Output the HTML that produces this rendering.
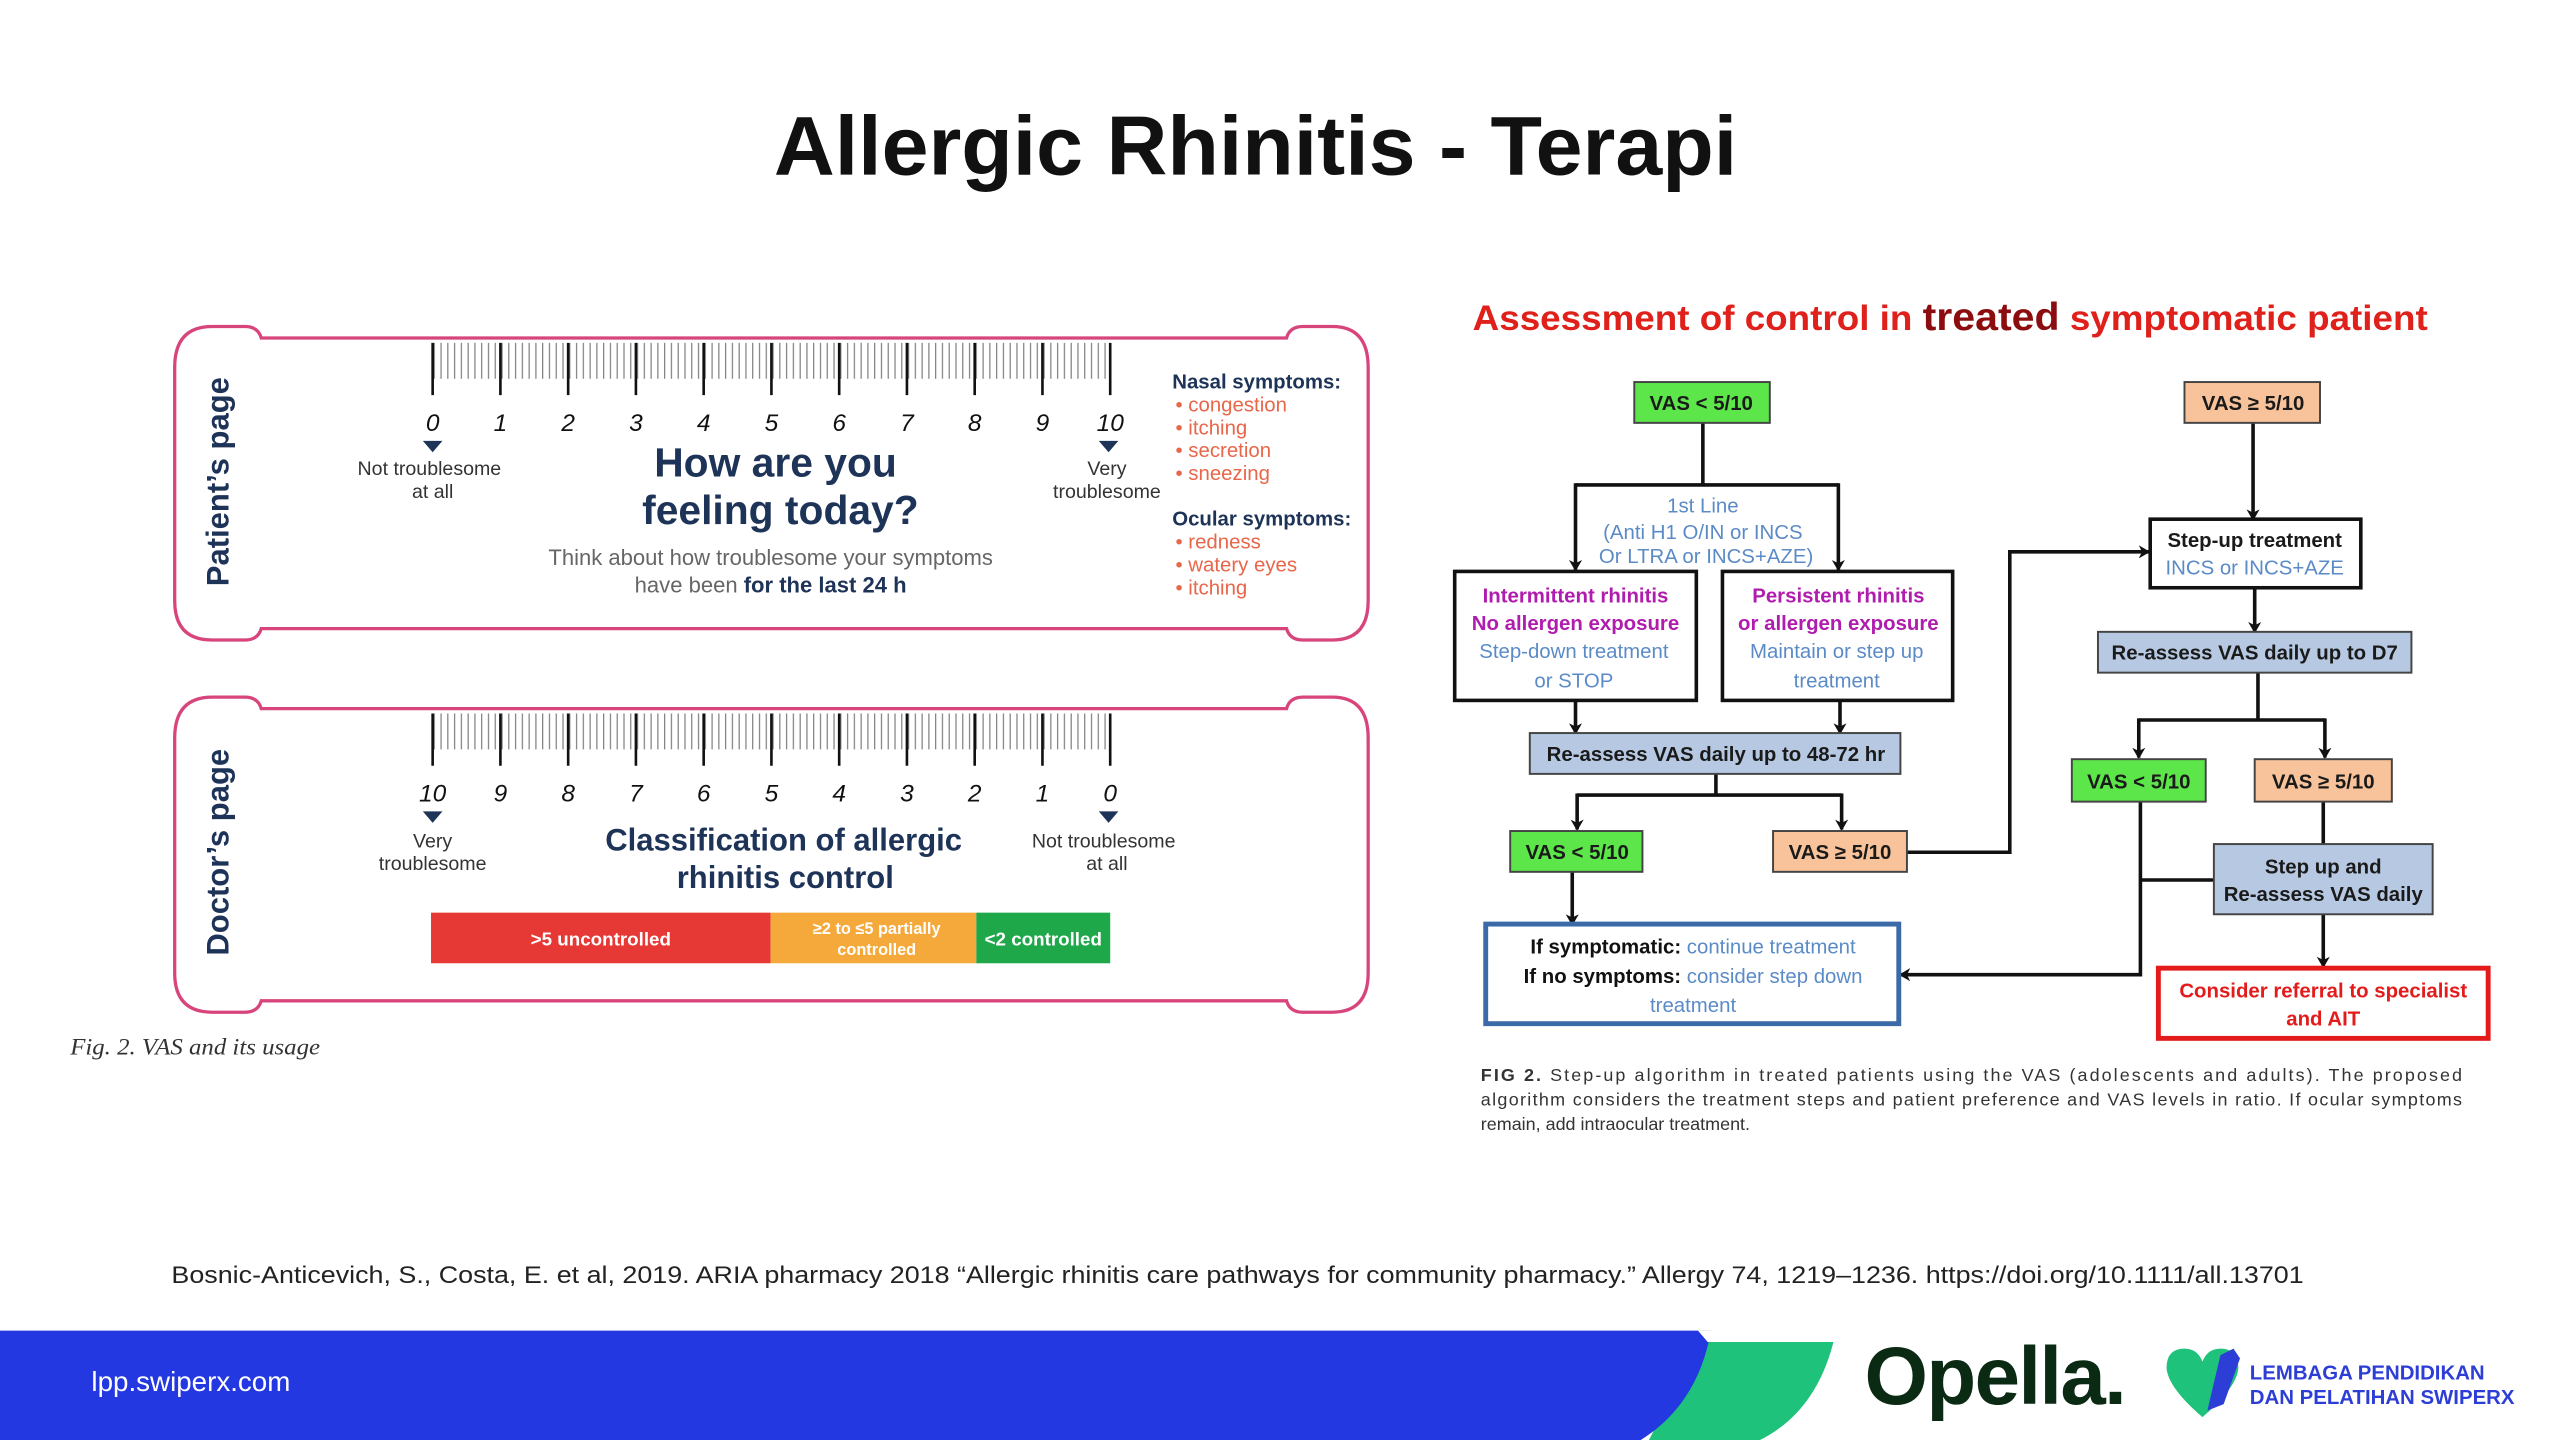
<!DOCTYPE html>
<html><head><meta charset="utf-8"><style>
html,body{margin:0;padding:0;background:#fff;}
svg{display:block;}
text{font-family:"Liberation Sans",Arial,sans-serif;}
</style></head><body>
<svg width="2560" height="1440" viewBox="0 0 1568 882" xmlns="http://www.w3.org/2000/svg">
<defs>
<pattern id="tk" x="265" y="0" width="4.15" height="900" patternUnits="userSpaceOnUse">
<line x1="1" y1="0" x2="1" y2="900" stroke="#777" stroke-width="0.7"/>
</pattern>
<marker id="ar" markerWidth="8" markerHeight="8" refX="6" refY="4" orient="auto" markerUnits="userSpaceOnUse">
<path d="M0,0 L7,4 L0,8 L2,4 z" fill="#111"/>
</marker>
</defs>
<rect width="1568" height="882" fill="#fff"/>
<text x="474" y="107" textLength="590" lengthAdjust="spacingAndGlyphs" font-size="51" font-weight="bold" fill="#111">Allergic Rhinitis - Terapi</text>

<g fill="none" stroke="#d8457c" stroke-width="2">
<path d="M107,225 Q107,200 130,200 L150,200 Q158,200 160,207 L788,207 Q790,200 798,200 L816,200 Q838,200 838,225 L838,368 Q838,392 816,392 L798,392 Q790,392 788,385 L160,385 Q158,392 150,392 L130,392 Q107,392 107,368 Z"/>
<path d="M107,452 Q107,427 130,427 L150,427 Q158,427 160,434 L788,434 Q790,427 798,427 L816,427 Q838,427 838,452 L838,596 Q838,620 816,620 L798,620 Q790,620 788,613 L160,613 Q158,620 150,620 L130,620 Q107,620 107,596 Z"/>
</g>
<rect x="265" y="210" width="415" height="22" fill="url(#tk)"/>
<rect x="265" y="437" width="415" height="22" fill="url(#tk)"/>
<g stroke="#111" stroke-width="1.6">
<path d="M265,210V242M306.5,210V242M348,210V242M389.5,210V242M431,210V242M472.5,210V242M514,210V242M555.5,210V242M597,210V242M638.5,210V242M680,210V242"/>
<path d="M265,437V469M306.5,437V469M348,437V469M389.5,437V469M431,437V469M472.5,437V469M514,437V469M555.5,437V469M597,437V469M638.5,437V469M680,437V469"/>
</g>
<g font-size="15" font-style="italic" fill="#111" text-anchor="middle">
<text x="265" y="264">0</text><text x="306.5" y="264">1</text><text x="348" y="264">2</text><text x="389.5" y="264">3</text><text x="431" y="264">4</text><text x="472.5" y="264">5</text><text x="514" y="264">6</text><text x="555.5" y="264">7</text><text x="597" y="264">8</text><text x="638.5" y="264">9</text><text x="680" y="264">10</text>
<text x="265" y="491">10</text><text x="306.5" y="491">9</text><text x="348" y="491">8</text><text x="389.5" y="491">7</text><text x="431" y="491">6</text><text x="472.5" y="491">5</text><text x="514" y="491">4</text><text x="555.5" y="491">3</text><text x="597" y="491">2</text><text x="638.5" y="491">1</text><text x="680" y="491">0</text>
</g>
<g fill="#1e3358">
<path d="M259,270h12l-6,7z"/><path d="M673,270h12l-6,7z"/>
<path d="M259,497h12l-6,7z"/><path d="M673,497h12l-6,7z"/>
</g>
<g font-size="12" fill="#333" text-anchor="middle">
<text x="263" y="291">Not troublesome</text><text x="265" y="305">at all</text>
<text x="678" y="291">Very</text><text x="678" y="305">troublesome</text>
<text x="265" y="519">Very</text><text x="265" y="533">troublesome</text>
<text x="676" y="519">Not troublesome</text><text x="678" y="533">at all</text>
</g>
<g font-weight="bold" fill="#1e3358" text-anchor="middle">
<text x="475" y="292" font-size="25">How are you</text>
<text x="478" y="321" font-size="25">feeling today?</text>
<text x="480" y="521" font-size="19">Classification of allergic</text>
<text x="481" y="544" font-size="19">rhinitis control</text>
</g>
<text x="472" y="346" font-size="13.5" fill="#666" text-anchor="middle">Think about how troublesome your symptoms</text>
<text x="472" y="363" font-size="13.5" fill="#666" text-anchor="middle">have been <tspan fill="#1e3358" font-weight="bold">for the last 24 h</tspan></text>
<g transform="translate(140,295) rotate(-90)"><text x="0" y="0" font-size="19" font-weight="bold" fill="#1e3358" text-anchor="middle">Patient’s page</text></g>
<g transform="translate(140,522) rotate(-90)"><text x="0" y="0" font-size="19" font-weight="bold" fill="#1e3358" text-anchor="middle">Doctor’s page</text></g>
<g font-size="12.5">
<text x="718" y="238" font-weight="bold" fill="#1e3358">Nasal symptoms:</text>
<text x="720" y="252" fill="#e8664a">• congestion</text>
<text x="720" y="266" fill="#e8664a">• itching</text>
<text x="720" y="280" fill="#e8664a">• secretion</text>
<text x="720" y="294" fill="#e8664a">• sneezing</text>
<text x="718" y="322" font-weight="bold" fill="#1e3358">Ocular symptoms:</text>
<text x="720" y="336" fill="#e8664a">• redness</text>
<text x="720" y="350" fill="#e8664a">• watery eyes</text>
<text x="720" y="364" fill="#e8664a">• itching</text>
</g>
<rect x="264" y="559" width="208" height="31" fill="#e63935"/>
<rect x="472" y="559" width="126" height="31" fill="#f4a93a"/>
<rect x="598" y="559" width="82" height="31" fill="#1fa84a"/>
<g fill="#fff" font-size="11.5" text-anchor="middle" font-weight="bold">
<text x="368" y="579">&gt;5 uncontrolled</text>
<text x="537" y="572" font-size="10">≥2 to ≤5 partially</text>
<text x="537" y="585" font-size="10">controlled</text>
<text x="639" y="579">&lt;2 controlled</text>
</g>
<text x="43" y="646" font-style="italic" font-size="14" fill="#333" style="font-family:'Liberation Serif',serif" textLength="153" lengthAdjust="spacingAndGlyphs">Fig. 2. VAS and its usage</text>

<text x="902" y="202" font-size="21.5" fill="#e0201b" font-weight="bold" textLength="585" lengthAdjust="spacingAndGlyphs">Assessment of control in <tspan fill="#8b0d10" font-size="24">treated</tspan> symptomatic patient</text>
<g stroke="#111" stroke-width="2.2" fill="none">
<path d="M1043,259V297M965,297H1126"/>
<path d="M965,296V349" marker-end="url(#ar)"/><path d="M1126,296V349" marker-end="url(#ar)"/>
<path d="M965,429V449" marker-end="url(#ar)"/><path d="M1127,429V449" marker-end="url(#ar)"/>
<path d="M1051,474V487M966,487H1128"/>
<path d="M966,486V508" marker-end="url(#ar)"/><path d="M1128,486V508" marker-end="url(#ar)"/>
<path d="M1168,522H1231V338H1316" marker-end="url(#ar)"/>
<path d="M963,534V566" marker-end="url(#ar)"/>
<path d="M1380,259V318" marker-end="url(#ar)"/>
<path d="M1381,360V387" marker-end="url(#ar)"/>
<path d="M1383,412V441M1310,441H1424"/>
<path d="M1310,440V464" marker-end="url(#ar)"/><path d="M1424,440V464" marker-end="url(#ar)"/>
<path d="M1423,491V517"/>
<path d="M1311,491V597H1164" marker-end="url(#ar)"/>
<path d="M1311,539H1356"/>
<path d="M1423,560V592" marker-end="url(#ar)"/>
</g>
<g stroke="#444" stroke-width="1.2">
<rect x="1001" y="234" width="83" height="25" fill="#5de64a"/>
<rect x="1338" y="234" width="83" height="25" fill="#f8c39b"/>
<rect x="925" y="509" width="81" height="25" fill="#5de64a"/>
<rect x="1086" y="509" width="82" height="25" fill="#f8c39b"/>
<rect x="1269" y="465" width="82" height="26" fill="#5de64a"/>
<rect x="1381" y="465" width="84" height="26" fill="#f8c39b"/>
<rect x="937" y="449" width="227" height="25" fill="#b7c9e2"/>
<rect x="1285" y="387" width="192" height="25" fill="#b7c9e2"/>
<rect x="1356" y="517" width="134" height="43" fill="#b7c9e2"/>
</g>
<g stroke="#111" stroke-width="2.2" fill="#fff">
<rect x="891" y="350" width="148" height="79"/>
<rect x="1055" y="350" width="141" height="79"/>
<rect x="1317" y="318" width="129" height="42"/>
</g>
<rect x="910" y="566" width="253" height="61" fill="#fff" stroke="#3a6aa8" stroke-width="3"/>
<rect x="1322" y="593" width="202" height="43" fill="#fff" stroke="#e31b1b" stroke-width="3"/>
<g font-size="12.5" text-anchor="middle" font-weight="bold" fill="#1a1a1a">
<text x="1042" y="251">VAS &lt; 5/10</text>
<text x="1380" y="251">VAS ≥ 5/10</text>
<text x="966" y="526">VAS &lt; 5/10</text>
<text x="1127" y="526">VAS ≥ 5/10</text>
<text x="1310" y="483">VAS &lt; 5/10</text>
<text x="1423" y="483">VAS ≥ 5/10</text>
<text x="1051" y="466">Re-assess VAS daily  up to 48-72 hr</text>
<text x="1381" y="404">Re-assess VAS daily up to D7</text>
<text x="1423" y="535">Step up and</text>
<text x="1423" y="552">Re-assess VAS daily</text>
<text x="1381" y="335">Step-up treatment</text>
</g>
<g font-size="12.5" text-anchor="middle" fill="#5b8bc7">
<text x="1043" y="314">1st Line</text>
<text x="1043" y="330">(Anti H1 O/IN or INCS</text>
<text x="1045" y="345">Or LTRA or  INCS+AZE)</text>
<text x="1381" y="352">INCS or INCS+AZE</text>
<text x="964" y="403">Step-down treatment</text>
<text x="964" y="421">or STOP</text>
<text x="1125" y="403">Maintain or step up</text>
<text x="1125" y="421">treatment</text>
<text x="1037" y="620">treatment</text>
</g>
<g font-size="12.5" text-anchor="middle" fill="#b01cae" font-weight="bold">
<text x="965" y="369">Intermittent rhinitis</text>
<text x="965" y="386">No allergen exposure</text>
<text x="1126" y="369">Persistent rhinitis</text>
<text x="1126" y="386">or allergen exposure</text>
</g>
<g font-size="12.5" text-anchor="middle" font-weight="bold">
<text x="1037" y="584" fill="#111">If symptomatic: <tspan fill="#5b8bc7" font-weight="normal">continue treatment</tspan></text>
<text x="1037" y="602" fill="#111">If no symptoms: <tspan fill="#5b8bc7" font-weight="normal">consider step down</tspan></text>
<text x="1423" y="611" fill="#e31b1b">Consider referral to specialist</text>
<text x="1423" y="628" fill="#e31b1b">and AIT</text>
</g>
<g font-size="11" fill="#333">
<text x="907" y="662" textLength="601" lengthAdjust="spacing"><tspan font-weight="bold">FIG 2.</tspan> Step-up algorithm in treated patients using the VAS (adolescents and adults). The proposed</text>
<text x="907" y="677" textLength="601" lengthAdjust="spacing">algorithm considers the treatment steps and patient preference and VAS levels in ratio. If ocular symptoms</text>
<text x="907" y="692">remain, add intraocular treatment.</text>
</g>

<text x="105" y="786" font-size="15" fill="#222" textLength="1306" lengthAdjust="spacingAndGlyphs">Bosnic-Anticevich, S., Costa, E. et al, 2019. ARIA pharmacy 2018 “Allergic rhinitis care pathways for community pharmacy.” Allergy 74, 1219–1236. https://doi.org/10.1111/all.13701</text>

<path d="M1040,822 L1123,822 Q1112,865 1078,882 L1010,882 Z" fill="#1fc27a"/>
<path d="M0,815 L1048,815 Q1040,860 1005,882 L0,882 Z" fill="#2338e0"/>
<path d="M1040,815 L1124,815 L1123,822 L1046,822 Z" fill="#fff"/>
<text x="56" y="852" font-size="17" fill="#fff">lpp.swiperx.com</text>
<text x="1142" y="860" font-size="50" font-weight="bold" fill="#0b2a14" letter-spacing="-1">Opella.</text>
<path d="M1349,868 Q1328,850 1327,838 Q1327,826 1338,826 Q1346,826 1349,834 Q1352,826 1360,826 Q1371,826 1371,838 Q1370,850 1349,868 Z" fill="#1fc27a"/>
<path d="M1352,864 L1360,830 L1368,826 L1372,832 L1362,860 Z" fill="#2d3ed6"/>
<g font-size="12.5" font-weight="bold" fill="#2d3ed6">
<text x="1378" y="845">LEMBAGA PENDIDIKAN</text>
<text x="1378" y="860">DAN PELATIHAN SWIPERX</text>
</g>
</svg>
</body></html>
